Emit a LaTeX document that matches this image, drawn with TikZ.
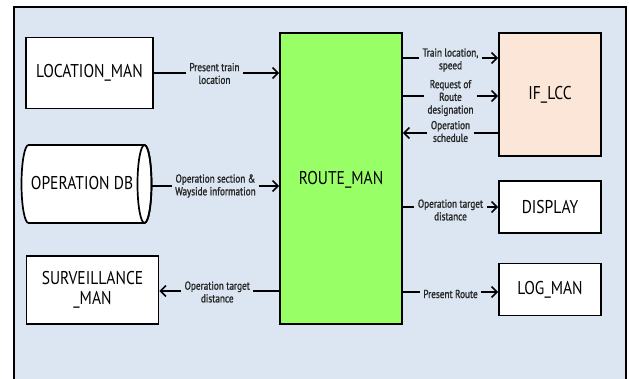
\documentclass[tikz,border=0pt]{standalone}
\usepackage{fontspec}
\setmainfont{PT Sans}[FakeStretch=0.84]
\newfontfamily\labfont{PT Sans}[FakeStretch=0.8, FakeBold=1.3]
\usetikzlibrary{arrows.meta}
\definecolor{bg}{RGB}{220,230,242}
\definecolor{rgreen}{RGB}{153,255,102}
\definecolor{peach}{RGB}{252,230,216}
\begin{document}
\begin{tikzpicture}[x=1pt,y=-1pt,
  blk/.style={draw=black, line width=1.7pt, fill=white, inner sep=0pt,
    font=\fontsize{18.5}{20}\selectfont, align=center},
  lab/.style={fill=bg, inner xsep=3.5pt, inner ysep=0.5pt, align=center,
    font=\labfont\fontsize{11.5}{12.7}\selectfont, text=black!85},
  arr/.style={line width=1.6pt, -{Straight Barb[length=5.5pt,width=11pt,line width=1.6pt]}},
  ln/.style={line width=1.6pt}]
\useasboundingbox (0,0) rectangle (629,379);
% frame
\fill[white] (0,0) rectangle (629,379);
\draw[line width=1.8pt, fill=bg] (14,7) rectangle (626,400);
% left blocks
\node[blk, minimum width=127pt, minimum height=71pt] (loc) at (89.5,73) {LOCATION\_MAN};
\draw[line width=1.7pt, fill=white] (28.5,145) -- (144.5,145)
  arc[start angle=270, end angle=450, x radius=7, y radius=39] -- (28.5,223)
  arc[start angle=90, end angle=270, x radius=7, y radius=39] -- cycle;
\draw[line width=1.7pt] (144.5,184) ellipse[x radius=7, y radius=39];
\node[minimum width=129pt, minimum height=78pt, inner sep=0pt] (opdb) at (87,184) {};
\node[font=\fontsize{18.5}{20}\selectfont] at (82,183) {OPERATION DB};
\node[blk, minimum width=132pt, minimum height=68pt] (surv) at (92.5,290) {SURVEILLANCE\\\_MAN};
% center
\node[blk, fill=rgreen, minimum width=122pt, minimum height=291pt] (route) at (341,178.5) {};
\node[font=\fontsize{18.5}{20}\selectfont] at (341,180) {ROUTE\_MAN};
% right blocks
\node[blk, fill=peach, minimum width=102pt, minimum height=123pt] (lcc) at (550,94.5) {IF\_LCC};
\node[blk, minimum width=102pt, minimum height=52pt] (disp) at (550,207) {DISPLAY};
\node[blk, minimum width=102pt, minimum height=52pt] (log) at (550,289.5) {LOG\_MAN};
% connectors
\draw[arr] (loc.east) -- (loc.east -| route.west)
  node[lab, midway, xshift=-2pt, yshift=-0.5pt] {Present train\\location};
\draw[arr] (opdb.east |- 0,186) -- (route.west |- 0,186)
  node[lab, midway] {Operation section \&\\Wayside information};
\draw[arr] (route.west |- 0,291) -- (surv.east |- 0,291)
  node[lab, midway, xshift=-2pt, yshift=-1pt] {Operation target\\distance};
\draw[arr] (route.east |- 0,58) -- (lcc.west |- 0,58)
  node[lab, midway, yshift=-2pt] {Train location,\\speed};
\draw[arr] (route.east |- 0,96) -- (lcc.west |- 0,96)
  node[lab, midway, yshift=-2pt] {Request of\\Route\\designation};
\draw[arr] (lcc.west |- 0,133) -- (route.east |- 0,133)
  node[lab, midway, yshift=1.5pt] {Operation\\schedule};
\draw[arr] (route.east |- disp.west) -- (disp.west)
  node[lab, midway, yshift=-3pt] {Operation target\\distance};
\draw[arr] (route.east |- 0,292) -- (log.west |- 0,292)
  node[lab, midway, yshift=-2pt] {Present Route};
\end{tikzpicture}
\end{document}
